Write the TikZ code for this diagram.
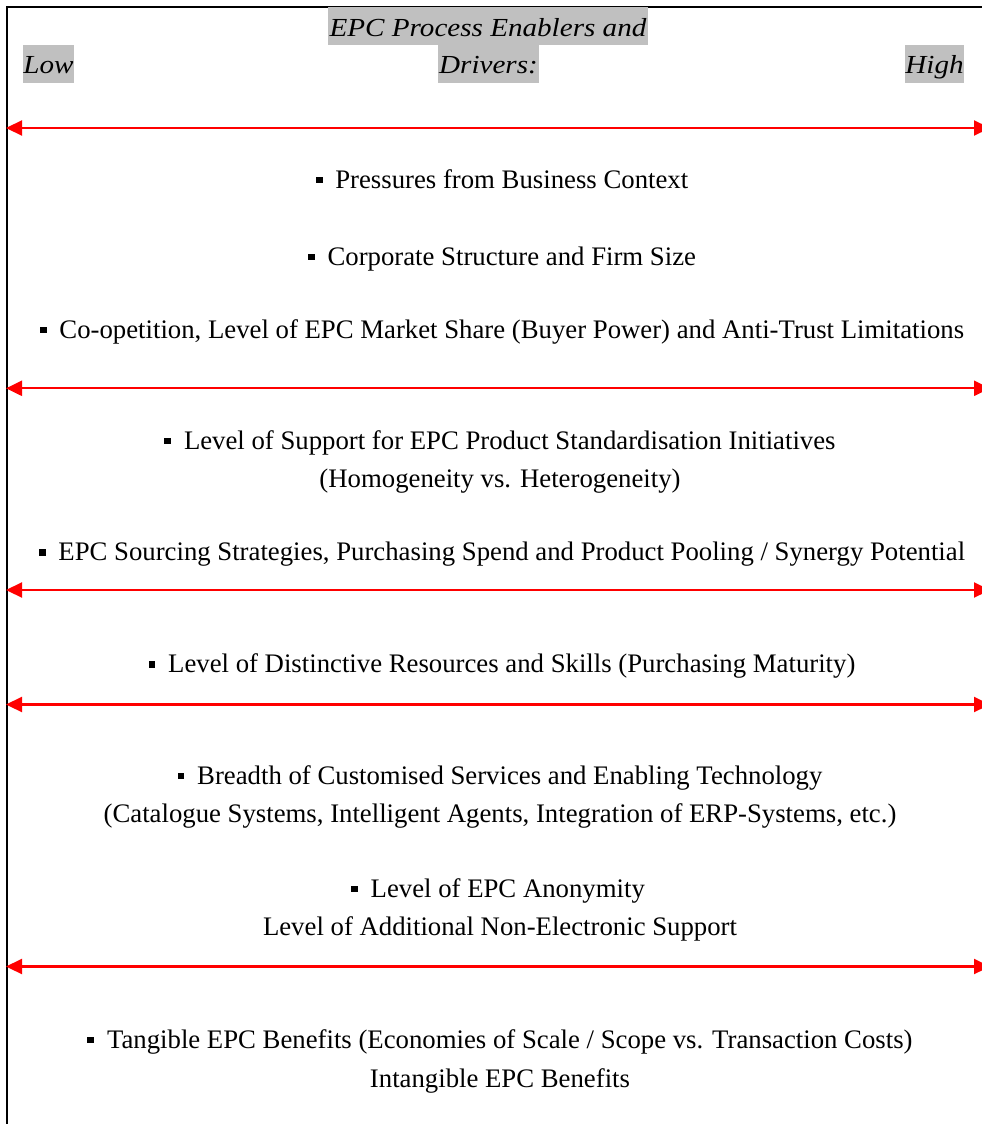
\documentclass[tikz,border=0pt]{standalone}
\usepackage{fontspec}
\setmainfont{Liberation Serif}
\newfontfamily\hdrfont{Liberation Serif}[FakeStretch=1.12]
\usetikzlibrary{arrows.meta}
\definecolor{hlgray}{RGB}{192,192,192}
\newcommand{\bul}{\rule[5pt]{6.8pt}{6.5pt}\hspace{12.8pt}}
\tikzset{
  body/.style={anchor=base, inner sep=0pt, font=\fontsize{26.75}{30}\selectfont},
  hdr/.style={anchor=base, inner sep=0pt, fill=hlgray, text height=30pt, text depth=8pt,
    font=\hdrfont\itshape\fontsize{26}{30}\selectfont},
  redarrow/.style={draw=red, line width=2.2pt, {Triangle[length=16pt,width=15pt]}-{Triangle[length=16pt,width=15pt]}},
  frameline/.style={draw=black, line width=2.6pt}
}
\begin{document}
\begin{tikzpicture}[x=1pt,y=-1pt]
\useasboundingbox (0,0) rectangle (982,1124);
% frame
\coordinate (fTL) at (7,7);
\coordinate (fTR) at (995,7);
\coordinate (fBL) at (7,1130);
\draw[frameline] (fTR) -- (fTL) -- (fBL);
% header
\node[hdr, minimum width=320pt] (h1) at (488,36.7) {EPC Process Enablers and};
\node[hdr, minimum width=101pt, text depth=9pt] (h2) at (488.5,74) {Drivers:};
\node[hdr, minimum width=51pt, text height=29pt, text depth=9pt] (low) at (48.5,74) {Low};
\node[hdr, minimum width=59pt, text height=29pt, text depth=9pt] (high) at (934.5,74) {High};
% arrows
\foreach \i/\yy in {1/128,2/388.3,3/590,4/704.5,5/966.5}{
  \coordinate (aL\i) at (6,\yy);
  \coordinate (aR\i) at (990,\yy);
  \draw[redarrow] (aL\i) -- (aR\i);
}
% body text
\node[body] (t1) at (502,188.3) {\bul Pressures from Business Context};
\node[body] (t2) at (502,265) {\bul Corporate Structure and Firm Size};
\node[body] (t3) at (502,338) {\bul Co-opetition, Level of EPC Market Share (Buyer Power) and Anti-Trust Limitations};
\node[body] (t4) at (500,449.3) {\bul Level of Support for EPC Product Standardisation Initiatives};
\node[body] (t5) at (500,487.7) {(Homogeneity vs. Heterogeneity)};
\node[body] (t6) at (502,560.7) {\bul EPC Sourcing Strategies, Purchasing Spend and Product Pooling / Synergy Potential};
\node[body] (t7) at (502,672.7) {\bul Level of Distinctive Resources and Skills (Purchasing Maturity)};
\node[body] (t8) at (500,784.3) {\bul Breadth of Customised Services and Enabling Technology};
\node[body] (t9) at (500,822.7) {(Catalogue Systems, Intelligent Agents, Integration of ERP-Systems, etc.)};
\node[body] (t10) at (498,897) {\bul Level of EPC Anonymity};
\node[body] (t11) at (500,935.7) {Level of Additional Non-Electronic Support};
\node[body] (t12) at (500,1048) {\bul Tangible EPC Benefits (Economies of Scale / Scope vs. Transaction Costs)};
\node[body] (t13) at (500,1087) {Intangible EPC Benefits};
\end{tikzpicture}
\end{document}
